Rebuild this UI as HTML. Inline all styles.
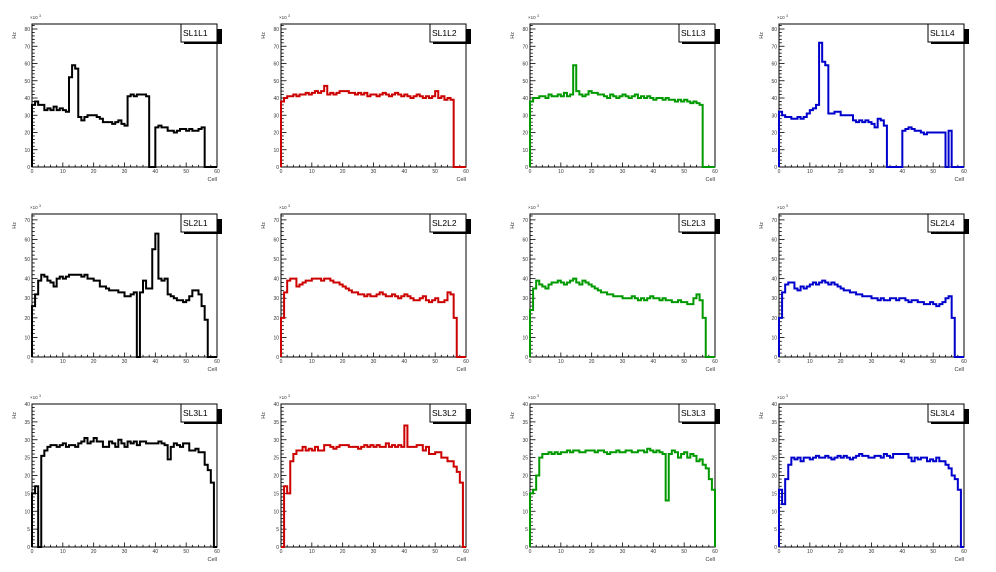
<!DOCTYPE html>
<html><head><meta charset="utf-8"><style>
html,body{margin:0;padding:0;background:#fff;width:996px;height:572px;overflow:hidden}
svg{display:block}
text{font-family:"Liberation Sans",sans-serif}
</style></head><body>
<svg id="s" width="996" height="572" xmlns="http://www.w3.org/2000/svg"></svg>
<script>
function rep(v,n){return Array(n).fill(v);}
var D={
SL1L1:[36,38,36,36,33,34,33,35,33,34,33,32,52,59,57,29,27,29,30,30,30,29,28,26,26,26,25,26,27,25,24,41,42,41,42,42,42,41,0,0,23,24,23,23,21,21,20,21,22,22,21,22,21,21,22,23,0,0,0,0],
SL1L2:[38,40,41,41,42,41,42,42,43,42,43,44,43,44,47,42,43,42,43,44,44,44,43,43,42,43,42,43,41,42,42,41,42,43,42,41,42,43,42,41,42,41,40,41,42,41,40,41,40,41,44,40,41,39,40,39,0,0,0,0],
SL1L3:[38,40,40,41,41,40,42,41,41,42,41,43,41,42,59,44,42,41,42,44,43,43,42,42,41,40,42,41,40,41,42,41,40,41,42,40,41,40,41,40,39,40,40,39,40,39,39,38,39,38,39,38,37,38,37,36,0,0,0,0],
SL1L4:[32,30,29,29,28,28,29,28,29,31,33,34,36,72,61,59,31,31,32,32,30,30,30,30,27,26,27,26,27,26,25,23,28,27,24,0,0,0,0,0,21,22,23,22,21,21,20,19,20,20,20,20,20,20,0,21,0,0,0,0],
SL2L1:[26,32,39,42,41,39,38,36,40,41,40,41,42,42,42,42,41,42,40,40,39,39,36,36,35,34,34,34,33,33,31,31,32,33,0,33,39,35,35,55,63,40,39,40,32,31,30,29,29,28,29,31,34,34,32,26,19,0,0,0],
SL2L2:[20,33,39,40,40,36,37,38,39,39,40,40,40,39,40,40,39,38,38,37,36,35,34,33,33,32,32,31,32,31,31,32,33,32,31,31,32,31,30,31,32,31,30,29,29,30,31,29,28,29,30,28,28,29,33,32,20,0,0,0],
SL2L3:[24,35,39,37,36,35,37,38,38,39,38,37,38,39,40,38,37,39,38,37,36,35,34,33,33,32,32,31,31,31,30,30,30,31,30,29,30,29,30,31,30,30,29,30,29,29,28,28,29,28,28,27,27,30,32,29,20,0,0,0],
SL2L4:[20,33,37,38,38,35,34,36,35,36,37,38,37,38,39,38,37,38,37,36,35,34,34,33,33,32,32,31,31,31,30,30,29,30,29,29,30,30,29,30,30,29,28,29,29,28,28,27,27,28,27,26,27,28,30,31,20,0,0,0],
SL3L1:[15,17,0,25.5,27,28,28.5,28.5,28,28.5,29,28,28.5,28.5,28,29,29.5,30.5,29,29.5,30.5,29.5,29.5,28,28,29.5,29,28,30,29,28,29.5,29,29.5,28.5,29.5,29.5,29,29,29,29,29.5,29,28.5,24.5,28,29,28.5,28,29,29,27,27,27.5,26.5,26.5,23,21.5,18,0],
SL3L2:[0,17,15,24,26,27,27,28,27,27.5,27,28,27,27,28.5,28.5,28,27.5,28,28.5,28.5,28.5,28,28,28,27.5,28,28.5,28,28.5,28,28.5,28,28,29,28,28.5,28,28.5,28,34,28,28,28,28.5,28.5,27,28,26,26,26.5,26.5,25,25,24,24,22.5,21,18,0],
SL3L3:[15,16,20,25,26,26,26.5,26,26.5,26,26.5,26.5,27,26.5,27,27,26.5,26.5,27,27,27,26.5,27,27,26.5,26,26.5,26.5,27,26.5,26.5,27,27,26.5,26.5,27,27,26.5,27.5,27,26.5,27,26.5,26,13,26,27,26.5,25,26,26.5,25,26,25.5,24,24.5,23,22,19,16],
SL3L4:[16,12,19,23,25,24.5,25,24,25,25,24.5,25,25.5,25,25,25.5,25,24.5,25,25.5,25,25.5,25,24.5,25,25.5,26,25.5,25.5,25,25,25.5,25.5,25,26,25.5,25,26,26,26,26,26,25,24,25,24.5,25,25,24,24.5,24,25,24,24,23,22,20,19,16,0]
};
var names=[["SL1L1","SL1L2","SL1L3","SL1L4"],["SL2L1","SL2L2","SL2L3","SL2L4"],["SL3L1","SL3L2","SL3L3","SL3L4"]];
var cols=["#000","#cc0000","#009900","#0000cc"];
var ymax=[82.9,73,40],ystep=[10,10,5];
var ox=[0,249,498,747],oy=[0,190,380];
var s="";
for(var r=0;r<3;r++)for(var c=0;c<4;c++){
 var X0=ox[c]+32,X1=ox[c]+217,Y0=oy[r]+24,Y1=oy[r]+167+(r==2?1:0)-(r==1?0:0);
 if(r==1){Y0=214;Y1=357;} if(r==2){Y0=404;Y1=547;}
 var W=X1-X0,H=Y1-Y0;
 var fx=function(v){return X0+v/60*W;}, fy=function(v){return Y1-v/ymax[r]*H;};
 s+='<rect x="'+X0+'" y="'+Y0+'" width="'+W+'" height="'+H+'" fill="none" stroke="#000" stroke-width="1"/>';
 // x ticks
 for(var t=0;t<=60;t+=2){var L=t%10==0?4.5:2.2;s+='<line x1="'+fx(t)+'" y1="'+Y1+'" x2="'+fx(t)+'" y2="'+(Y1-L)+'" stroke="#000" stroke-width="0.8"/>';
  if(t%10==0)s+='<text x="'+fx(t)+'" y="'+(Y1+6)+'" font-size="5" text-anchor="middle" fill="#333">'+t+'</text>';}
 var st=ystep[r];
 for(var v=0;v<=ymax[r];v+=st/5){var maj=Math.abs(v/st-Math.round(v/st))<1e-6;var L=maj?5.5:2.8;var yy=fy(v);
  s+='<line x1="'+X0+'" y1="'+yy+'" x2="'+(X0+L)+'" y2="'+yy+'" stroke="#000" stroke-width="0.8"/>';
  if(maj)s+='<text x="'+(X0-2)+'" y="'+(yy+2)+'" font-size="5" text-anchor="end" fill="#333">'+Math.round(v)+'</text>';}
 s+='<text x="'+(X0-2)+'" y="'+(Y0-5)+'" font-size="4.5" fill="#333">×10</text><text x="'+(X0+7)+'" y="'+(Y0-7)+'" font-size="3.5" fill="#333">3</text>';
 s+='<text transform="translate('+(X0-16)+','+(Y0+8)+') rotate(-90)" font-size="5.5" text-anchor="end" fill="#333">Hz</text>';
 s+='<text x="'+X1+'" y="'+(Y1+14)+'" font-size="5.5" text-anchor="end" fill="#333">Cell</text>';
 var d=D[names[r][c]],p="M"+X0+","+fy(0);
 for(var i=0;i<60;i++){p+=" L"+fx(i)+","+fy(d[i])+" L"+fx(i+1)+","+fy(d[i]);}
 p+=" L"+X1+","+fy(0);
 s+='<path d="'+p+'" fill="none" stroke="'+cols[c]+'" stroke-width="2"/>';
 s+='<rect x="'+(X1-33)+'" y="'+(Y0+5)+'" width="38" height="15" fill="#000"/>';
 s+='<rect x="'+(X1-36)+'" y="'+Y0+'" width="36" height="18" fill="#fff" stroke="#000" stroke-width="1"/>';
 s+='<text x="'+(X1-34)+'" y="'+(Y0+12)+'" font-size="8.5" fill="#000">'+names[r][c]+'</text>';
}
document.getElementById("s").innerHTML=s;
</script>
</body></html>
